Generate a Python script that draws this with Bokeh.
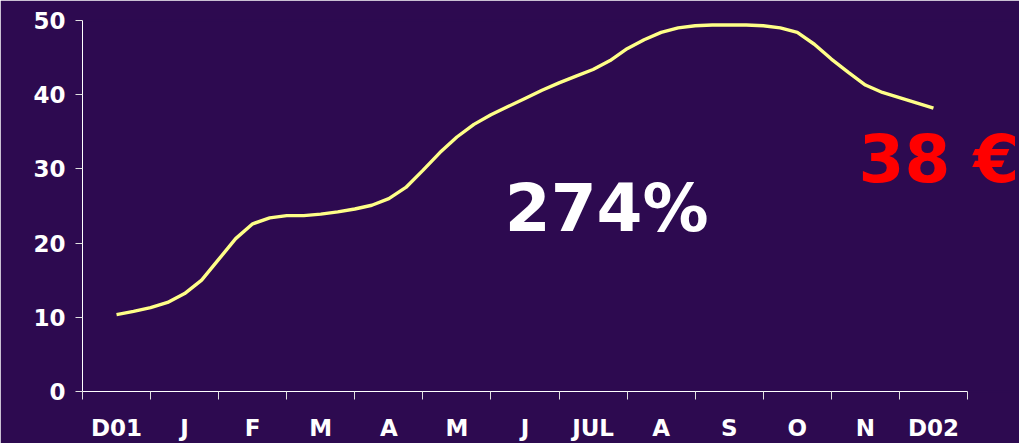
from bokeh.plotting import figure
from bokeh.models import Range1d, FixedTicker, Label
from bokeh.embed import file_html
from bokeh.resources import INLINE

# Month categories (label at centre of each month slot)
months = ["D01", "J", "F", "M", "A", "M", "J", "JUL", "A", "S", "O", "N", "D02"]

# Price series, sampled every quarter month from the middle of D01 to the middle of D02
price_x = [0.5 + 0.25 * i for i in range(49)]
price = [10.35, 10.8, 11.3, 12.0, 13.2, 15.0, 17.8, 20.6, 22.6, 23.4,
         23.7, 23.7, 23.9, 24.2, 24.6, 25.1, 26.0, 27.5, 29.8, 32.2,
         34.3, 36.0, 37.3, 38.4, 39.5, 40.6, 41.6, 42.5, 43.4, 44.6,
         46.2, 47.4, 48.4, 49.0, 49.3, 49.4, 49.4, 49.4, 49.3, 49.0,
         48.4, 46.8, 44.8, 43.0, 41.3, 40.3, 39.6, 38.9, 38.2]

y_ticks = [0, 10, 20, 30, 40, 50]
growth_text = "274%"
last_price_text = "38 €"

BG = "#2D0A50"
FONT = "DejaVu Sans"
W, H = 1019, 443
LEFT, TOP, BOTTOM = 82, 20, 51
n = len(months)
px_per_month = 885 / n
x_end = (W - LEFT) / px_per_month  # frame runs to the right edge; axis stops at n

p = figure(width=W, height=H, output_backend="svg", toolbar_location=None,
           x_range=Range1d(0, x_end), y_range=Range1d(0, 50),
           min_border_left=LEFT, min_border_right=0, min_border_top=TOP,
           min_border_bottom=BOTTOM)
p.background_fill_color = BG
p.border_fill_color = BG
p.outline_line_color = BG
p.outline_line_width = 2
p.grid.grid_line_color = None

p.line(price_x, price, line_color="#FFFF88", line_width=3.4)

# x axis: labels at month centres, tick marks at month boundaries
xa = p.xaxis[0]
xa.bounds = (0, n)
xa.ticker = FixedTicker(ticks=[i + 0.5 for i in range(n)],
                        minor_ticks=list(range(n + 1)))
xa.major_label_overrides = {i + 0.5: m for i, m in enumerate(months)}
xa.major_tick_line_color = None
xa.major_tick_out = 0
xa.major_tick_in = 0
xa.minor_tick_line_color = "#E0E0E0"
xa.minor_tick_out = 8
xa.minor_tick_in = 0
xa.axis_line_color = "white"
xa.major_label_text_color = "white"
xa.major_label_text_font = FONT
xa.major_label_text_font_style = "bold"
xa.major_label_text_font_size = "23px"
xa.major_label_standoff = 15

ya = p.yaxis[0]
ya.ticker = FixedTicker(ticks=y_ticks, minor_ticks=[])
ya.axis_line_color = "white"
ya.major_tick_line_color = "#E0E0E0"
ya.major_tick_out = 7
ya.major_tick_in = 0
ya.minor_tick_line_color = None
ya.major_label_text_color = "white"
ya.major_label_text_font = FONT
ya.major_label_text_font_style = "bold"
ya.major_label_text_font_size = "23px"
ya.major_label_standoff = 10

p.add_layout(Label(x=7.70, y=24.6, text=growth_text,
                   text_color="white", text_font=FONT, text_font_style="bold",
                   text_font_size="66px", text_align="center", text_baseline="alphabetic"))
p.add_layout(Label(x=11.40, y=31.3, text=last_price_text,
                   text_color="#FF0000", text_font=FONT, text_font_style="bold",
                   text_font_size="66px", text_align="left", text_baseline="alphabetic"))

open("out.html", "w").write(file_html(p, INLINE))
